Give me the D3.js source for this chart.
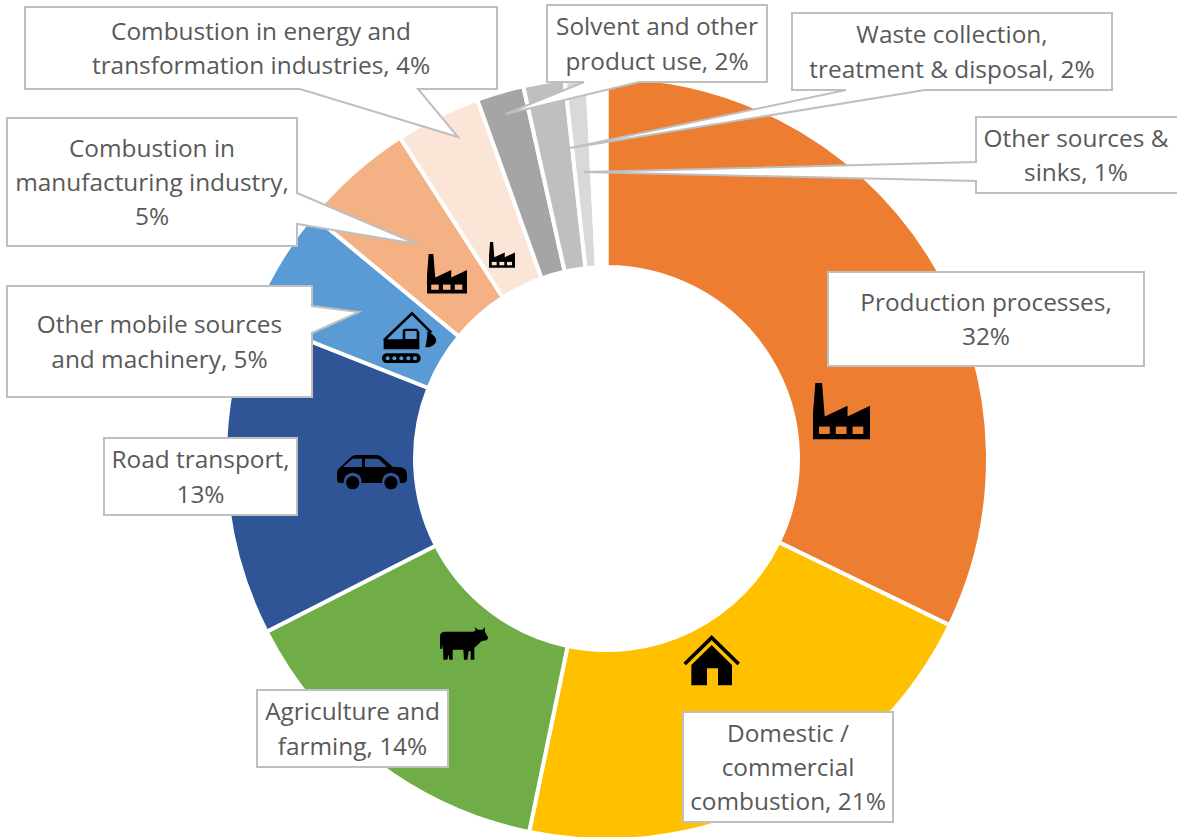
<!DOCTYPE html>
<html><head><meta charset="utf-8">
<script src="https://d3js.org/d3.v7.min.js"></script>
<style>html,body{margin:0;padding:0;background:#fff;overflow:hidden}svg{display:block}</style>
</head><body><svg id="c" width="1177" height="837"></svg>
<script>
const categories = ["Production processes","Domestic / commercial combustion","Agriculture and farming","Road transport","Other mobile sources and machinery","Combustion in manufacturing industry","Combustion in energy and transformation industries","Solvent and other product use","Waste collection, treatment & disposal","Other sources & sinks","Unallocated"];
const shares = [32.2,21.05,14.25,13.5,5,4.9,3.6,2.0,1.75,0.95,0.8];
const sliceColors = ["#ED7D31","#FFC000","#70AD47","#2F5597","#5B9BD5","#F4B183","#FBE5D6","#A5A5A5","#BFBFBF","#D9D9D9","#FFFFFF"];
const labelLines = [
 ["Production processes,","32%"],
 ["Domestic /","commercial","combustion, 21%"],
 ["Agriculture and","farming, 14%"],
 ["Road transport,","13%"],
 ["Other mobile sources","and machinery, 5%"],
 ["Combustion in","manufacturing industry,","5%"],
 ["Combustion in energy and","transformation industries, 4%"],
 ["Solvent and other","product use, 2%"],
 ["Waste collection,","treatment & disposal, 2%"],
 ["Other sources &","sinks, 1%"]
];
// callout layout: box, optional pointer [edge, a, tipX, tipY, b], text centre
const callouts = [
 {i:0,x:828,y:272,w:316,h:94},
 {i:1,x:683,y:712,w:210,h:110},
 {i:2,x:257,y:690,w:191,h:77},
 {i:3,x:104,y:438,w:193,h:77},
 {i:4,x:7,y:286,w:305,h:111,p:["r",306,359,312,333]},
 {i:5,x:7,y:118,w:290,h:128,p:["r",193,417,244,224]},
 {i:6,x:25,y:7,w:472,h:82,p:["b",300,458,137,418]},
 {i:7,x:547,y:5,w:220,h:77,p:["b",584,506,114,639]},
 {i:8,x:792,y:13,w:320,h:77,p:["b",846,570,148,925]},
 {i:9,x:976,y:117,w:210,h:76,p:["l",162,584,172,181],tx:1076}
];
const cx=606.5, cy=458.5, R=381.5, r=191.5;
const svg=d3.select("#c");
const pie=d3.pie().sort(null).value(d=>d)(shares);
const arc=d3.arc().innerRadius(r).outerRadius(R);
svg.append("g").attr("transform",`translate(${cx},${cy})`)
 .selectAll("path").data(pie).join("path")
 .attr("d",arc).attr("fill",(d,i)=>sliceColors[i])
 .attr("stroke","#fff").attr("stroke-width",4);

// icons (drawn in their own local units, scaled to a pixel box)
function icon(x,y,s,draw){const g=svg.append("g").attr("transform",`translate(${x},${y}) scale(${s})`);draw(g);}
const factory=(bg)=>g=>{
 g.append("path").attr("fill","#000").attr("d","M0,168 L0,90 L7,0 L27,0 L35,100 L103,68 L103,100 L170,68 L170,168 Z");
 [18,68,118].forEach(x=>g.append("rect").attr("x",x).attr("y",130).attr("width",32).attr("height",22).attr("fill",bg));
};
icon(813,383,57/170,factory(sliceColors[0]));
icon(427,254,40/170,factory(sliceColors[5]));
icon(489,242,26/170,factory(sliceColors[6]));
// house
icon(683,635,1/3,g=>{
 g.append("path").attr("fill","none").attr("stroke","#000").attr("stroke-width",11).attr("d","M5,87 L86,8 L167,87");
 g.append("path").attr("fill","#000").attr("d","M25,90 L86,30 L147,90 L147,151 L105,151 L105,100 L72,100 L72,151 L25,151 Z");
});
// cow
icon(440,627,1/3,g=>{
 g.append("path").attr("fill","#000").attr("d","M0,65 L0,28 Q0,15 14,14 L100,14 L107,10 L104,0 L114,8 L128,8 L134,0 L135,14 L145,33 L140,40 L125,42 L112,55 L103,62 L103,98 L92,98 L92,72 L86,72 L82,98 L72,98 L70,68 L38,68 L38,98 L28,98 L26,82 L22,98 L10,98 L9,50 L7,65 Z");
});
// car
icon(337,455,1/3,g=>{
 const bg=sliceColors[3];
 g.append("path").attr("fill","#000").attr("d","M0,55 Q0,42 14,33 L42,6 Q48,0 58,0 L118,0 Q128,0 134,6 L168,36 L192,37 Q210,40 210,62 L210,72 Q210,84 195,84 L10,84 Q0,84 0,72 Z");
 g.append("path").attr("fill",bg).attr("d","M18,36 L46,11 L75,11 L75,36 Z M84,11 L118,11 L126,13 L150,36 L84,36 Z");
 [47,162].forEach(x=>{
  g.append("circle").attr("cx",x).attr("cy",80).attr("r",27).attr("fill",bg);
  g.append("circle").attr("cx",x).attr("cy",83).attr("r",20).attr("fill","#000");
 });
});
// excavator
icon(382,312,1/3,g=>{
 const bg=sliceColors[4];
 g.append("path").attr("fill","none").attr("stroke","#000").attr("stroke-width",8).attr("d","M6,85 L90,4 L148,62");
 g.append("path").attr("fill","#000").attr("d","M5,112 L5,82 L62,82 L62,56 Q62,50 70,50 L105,50 L112,60 L112,112 Z");
 g.append("rect").attr("x",70).attr("y",57).attr("width",34).attr("height",24).attr("fill",bg);
 g.append("path").attr("fill","#000").attr("d","M136,58 C152,66 166,78 162,90 C156,102 142,108 130,105 C134,90 136,75 136,58 Z");
 g.append("rect").attr("x",0).attr("y",124).attr("width",116).attr("height",29).attr("rx",14).attr("fill","#000");
 [17,37,58,79,99].forEach(x=>g.append("circle").attr("cx",x).attr("cy",138.5).attr("r",6).attr("fill",bg));
});

// callouts
function boxPath(c){
 const {x,y,w,h,p}=c, R2=x+w, B=y+h;
 let d=`M${x},${y} L${R2},${y}`;
 if(p&&p[0]==="r") d+=` L${R2},${p[1]} L${p[2]},${p[3]} L${R2},${p[4]}`;
 d+=` L${R2},${B}`;
 if(p&&p[0]==="b") d+=` L${p[4]},${B} L${p[2]},${p[3]} L${p[1]},${B}`;
 d+=` L${x},${B}`;
 if(p&&p[0]==="l") d+=` L${x},${p[4]} L${p[2]},${p[3]} L${x},${p[1]}`;
 return d+" Z";
}
const lineH=34.3;
callouts.forEach(c=>{
 const g=svg.append("g");
 g.append("path").attr("d",boxPath(c)).attr("fill","#fff").attr("stroke","#BFBFBF").attr("stroke-width",2);
 const lines=labelLines[c.i];
 const tx=c.tx??(c.x+c.w/2), my=c.y+c.h/2;
 const t=g.append("text").attr("text-anchor","middle").attr("fill","#595959")
  .attr("font-family","'Open Sans','Noto Sans',sans-serif").attr("font-size",24.4);
 lines.forEach((s,k)=>t.append("tspan").attr("x",tx)
  .attr("y",my+(k-(lines.length-1)/2)*lineH+9).text(s));
});
</script></body></html>
